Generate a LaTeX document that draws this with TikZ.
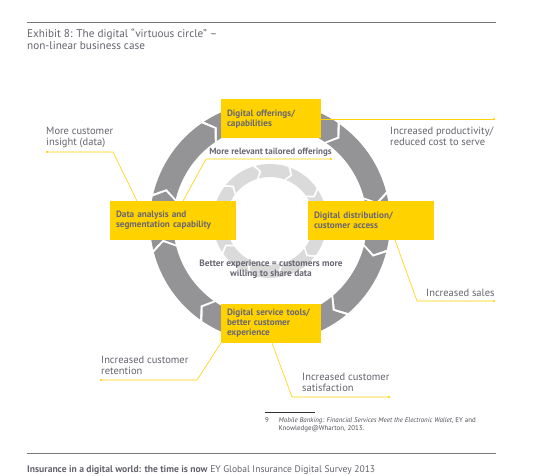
\documentclass[tikz,border=0pt]{standalone}
\usepackage{fontspec}
\setmainfont{PT Sans}
\definecolor{eyyellow}{RGB}{255,210,0}
\definecolor{ringdark}{RGB}{148,147,150}
\definecolor{ringlight}{RGB}{218,218,218}
\definecolor{txtgray}{RGB}{100,100,110}
\definecolor{boxtxt}{RGB}{105,103,115}
\definecolor{rulegray}{RGB}{120,120,120}
\begin{document}
\begin{tikzpicture}[x=1pt,y=-1pt,
  box/.style={fill=eyyellow, text=boxtxt, font=\bfseries\fontsize{9.2}{10}\selectfont,
    align=left, inner xsep=6pt, inner ysep=2pt, minimum height=39pt, anchor=center},
  lbl/.style={text=txtgray, font=\fontsize{10.5}{11.2}\selectfont, align=left, inner sep=0pt, anchor=north west},
  midlbl/.style={text=boxtxt, font=\bfseries\fontsize{9}{10}\selectfont, align=center, inner sep=0pt},
  leader/.style={draw=eyyellow, line width=0.6pt},
  dotnode/.style={circle, fill=eyyellow, inner sep=0pt, minimum size=2.2pt},
  rule/.style={draw=rulegray, line width=0.8pt},
]
\useasboundingbox (0,0) rectangle (547,476);
\fill[white] (0,0) rectangle (547,476);

% rules
\coordinate (r1a) at (27,22); \coordinate (r1b) at (496,22);
\draw[rule] (r1a) -- (r1b);
\coordinate (r2a) at (27,453); \coordinate (r2b) at (496,453);
\draw[rule] (r2a) -- (r2b);
\coordinate (r3a) at (265,412); \coordinate (r3b) at (315,412);
\draw[draw=black!80, line width=0.6pt] (r3a) -- (r3b);

% title
\node[text=txtgray, font=\fontsize{11.2}{11.8}\selectfont, align=left, inner sep=0pt, anchor=north west]
  (title) at (27,28.5) {Exhibit 8: The digital “virtuous circle” –\\non-linear business case};

% outer ring
\def\g{0.7}\def\d{4}
\begin{scope}[shift={(270,222)}, y=1pt]
\foreach \a/\b in {55/14, 124/55, 167/124, 194/167, 235/194, 310/235, 346/310, 374/346} {
  \fill[ringdark] (\a-\g:120) arc[start angle=\a-\g, end angle=\b+\g, radius=120]
    -- (\b+\g-\d:108.5) -- (\b+\g:97) arc[start angle=\b+\g, end angle=\a-\g, radius=97]
    -- (\a-\g-\d:108.5) -- cycle;
}
\end{scope}
% inner ring
\def\gi{1.3}\def\di{5}
\begin{scope}[shift={(270,221)}, y=1pt]
\foreach \b in {34,70,...,358} {
  \pgfmathsetmacro{\a}{\b+36}
  \fill[ringlight] (\a-\gi:57) arc[start angle=\a-\gi, end angle=\b+\gi, radius=57]
    -- (\b+\gi-\di:50.5) -- (\b+\gi:44) arc[start angle=\b+\gi, end angle=\a-\gi, radius=44]
    -- (\a-\gi-\di:50.5) -- cycle;
}
\end{scope}

% boxes
\node[box, text width=88pt] (top) at (271,119) {Digital offerings/\\capabilities};
\node[box, text width=114pt] (left) at (173,220.5) {Data analysis and\\segmentation capability};
\node[box, text width=114pt] (right) at (371,220.5) {Digital distribution/\\customer access};
\node[box, text width=88pt] (bottom) at (271,323.5) {Digital service tools/\\better customer\\experience};

% middle labels
\node[midlbl, anchor=base] (tailored) at (270.5,155) {More relevant tailored offerings};
\node[midlbl, font=\bfseries\fontsize{9.3}{10}\selectfont, anchor=north] (better) at (271,260) {Better experience = customers more\\willing to share data};

% outer labels
\node[lbl] (insight) at (46,127) {More customer\\insight (data)};
\node[lbl] (prod) at (390,126.5) {Increased productivity/\\reduced cost to serve};
\node[lbl] (sales) at (426,288.5) {Increased sales};
\node[lbl] (retention) at (101,356) {Increased customer\\retention};
\node[lbl] (satisf) at (302,373) {Increased customer\\satisfaction};

% leaders
\node[dotnode] (d1) at (47,152) {};
\coordinate (b1) at (113,152);
\coordinate (e1) at (137,201);
\draw[leader] (d1.center) -- (b1) -- (e1);

\node[dotnode] (d2) at (331,159) {};
\coordinate (b2) at (206,159);
\coordinate (e2) at (183,201);
\draw[leader] (d2.center) -- (b2) -- (e2);

\node[dotnode] (d3) at (494,119) {};
\draw[leader] (top.east) -- (d3.center);

\node[dotnode] (d4) at (494,301) {};
\coordinate (b4) at (417,301);
\coordinate (e4) at (395,240);
\draw[leader] (e4) -- (b4) -- (d4.center);

\node[dotnode] (d5) at (101,380) {};
\coordinate (b5) at (197,380);
\draw[leader] (bottom.south west) -- (b5) -- (d5.center);

\node[dotnode] (d6) at (389,397) {};
\coordinate (b6) at (292,397);
\coordinate (e6) at (272,343);
\draw[leader] (e6) -- (b6) -- (d6.center);

% footnote
\node[text=txtgray!80!black, font=\fontsize{6.9}{7.5}\selectfont, align=left, inner sep=0pt, anchor=north west]
  (fn) at (265,417.5) {\makebox[13.5pt][l]{9}\textit{Mobile Banking: Financial Services Meet the Electronic Wallet}, EY and\\\hspace*{13.5pt}Knowledge@Wharton, 2013.};

% footer
\node[text=txtgray, font=\fontsize{9.6}{10}\selectfont, inner sep=0pt, anchor=base west]
  (footer) at (27,472) {\textbf{Insurance in a digital world: the time is now} EY Global Insurance Digital Survey 2013};
\end{tikzpicture}
\end{document}
